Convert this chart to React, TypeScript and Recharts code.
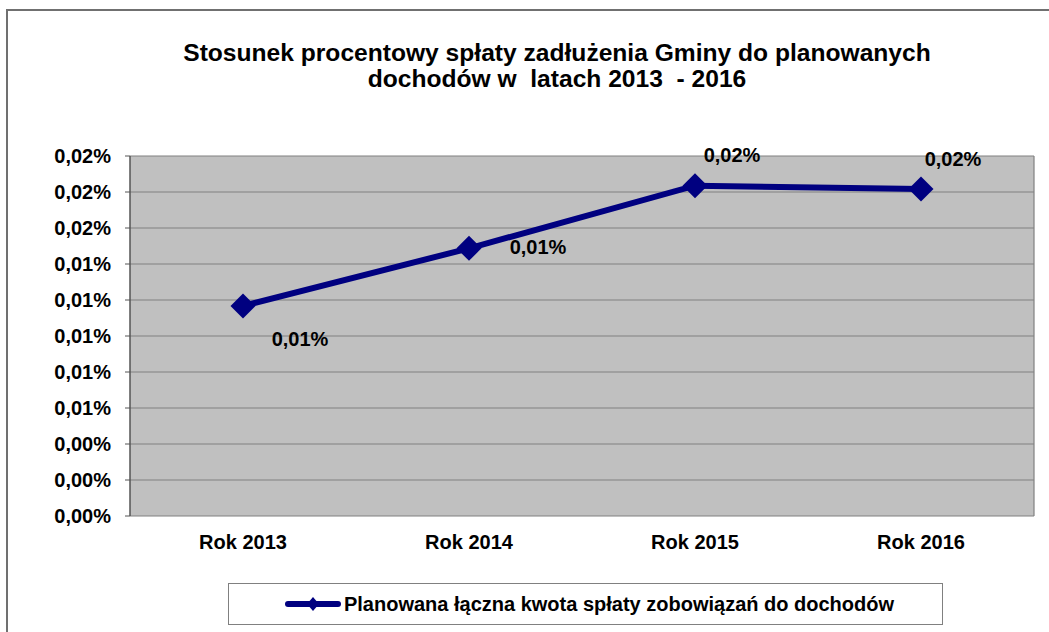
import { LineChart, Line, XAxis, YAxis, CartesianGrid, Legend, LabelList } from 'recharts';

// --- Data ---
const YEARS = ['Rok 2013', 'Rok 2014', 'Rok 2015', 'Rok 2016'];
// values in percent
const DEBT_RATIO = [0.01167, 0.01487, 0.01835, 0.01817];
const Y_TICKS = [0, 0.002, 0.004, 0.006, 0.008, 0.01, 0.012, 0.014, 0.016, 0.018, 0.02];
const CATEGORY_EDGES = [0, 1, 2, 3, 4];
const TITLE_LINES = ['Stosunek procentowy spłaty zadłużenia Gminy do planowanych', 'dochodów w  latach 2013  - 2016'];
const SERIES_NAME = 'Planowana łączna kwota spłaty zobowiązań do dochodów';

const data = YEARS.map((year, i) => ({ year, value: DEBT_RATIO[i] }));

// --- Theme ---
const FONT = '"Liberation Sans", Arial, sans-serif';
const NAVY = '#000080';
const AXIS_TEXT = { fill: '#000', fontSize: 20, fontWeight: 'bold' as const, fontFamily: FONT };
// label offsets from each point (dx, dy), as placed in the original
const LABEL_SHIFT = [[57, 33], [69, -1], [37, -31], [32, -30]];

const pct = (v: number) => `${v.toFixed(2).replace('.', ',')}%`;

const Diamond = (props: any) => {
    const { cx, cy } = props;
    if (cx == null || cy == null) return <g key={props.key} />;
    const r = 12.5;
    return (
        <polygon
            key={props.key}
            points={`${cx},${cy - r} ${cx + r},${cy} ${cx},${cy + r} ${cx - r},${cy}`}
            fill={NAVY}
        />
    );
};

const PointLabel = (props: any) => {
    const x = props.x ?? props.viewBox?.x;
    const y = props.y ?? props.viewBox?.y;
    const [dx, dy] = LABEL_SHIFT[props.index] || [0, -20];
    return (
        <text x={x + dx} y={y + dy} textAnchor="middle" dominantBaseline="central" {...AXIS_TEXT}>
            {pct(props.value)}
        </text>
    );
};

const EmptyTick = () => <g />;

const LegendBox = () => (
    <div
        style={{
            boxSizing: 'border-box',
            width: '100%',
            height: '100%',
            border: '1.5px solid #808080',
            background: '#fff',
            display: 'flex',
            alignItems: 'center',
            justifyContent: 'center',
            paddingLeft: 8,
            fontFamily: FONT,
            fontWeight: 'bold',
            fontSize: 20,
            color: '#000',
        }}
    >
        <svg width={56} height={16} style={{ marginRight: 3 }}>
            <line x1={3} y1={8} x2={53} y2={8} stroke={NAVY} strokeWidth={6} strokeLinecap="round" />
            <polygon points="28,1 34,8 28,15 22,8" fill={NAVY} />
        </svg>
        <span>{SERIES_NAME}</span>
    </div>
);

export default function App() {
    return (
        <div style={{ position: 'fixed', left: 0, top: 0, width: 1049, height: 632, overflow: 'hidden', background: '#fff' }}>
            <div
                style={{
                    position: 'absolute',
                    left: 6,
                    top: 9,
                    width: 1200,
                    height: 800,
                    border: '2px solid #707070',
                }}
            />
            <div
                style={{
                    position: 'absolute',
                    left: 0,
                    top: 40,
                    width: 1114,
                    textAlign: 'center',
                    fontFamily: FONT,
                    fontWeight: 'bold',
                    fontSize: 24.6,
                    lineHeight: '26px',
                    whiteSpace: 'pre',
                    color: '#000',
                }}
            >
                {TITLE_LINES.map((t) => (
                    <div key={t}>{t}</div>
                ))}
            </div>
            <div style={{ position: 'absolute', left: 0, top: 0 }}>
                <LineChart width={1049} height={632} data={data} margin={{ top: 156, right: 15, bottom: 76, left: 0 }}>
                    <CartesianGrid
                        stroke="#808080"
                        strokeWidth={1.2}
                        fill="#c0c0c0"
                        fillOpacity={1}
                        verticalCoordinatesGenerator={({ offset }: any) => [offset.left + offset.width]}
                    />
                    <XAxis
                        xAxisId="edges"
                        type="number"
                        domain={[0, 4]}
                        ticks={CATEGORY_EDGES}
                        tick={EmptyTick}
                        height={0}
                        tickSize={6}
                        axisLine={{ stroke: '#000', strokeWidth: 2.5 }}
                        tickLine={{ stroke: '#000', strokeWidth: 1.5 }}
                    />
                    <XAxis
                        dataKey="year"
                        scale="band"
                        height={40}
                        axisLine={false}
                        tickLine={false}
                        tickSize={0}
                        tickMargin={19}
                        tick={AXIS_TEXT}
                        interval={0}
                    />
                    <YAxis
                        width={130}
                        domain={[0, 0.02]}
                        ticks={Y_TICKS}
                        interval={0}
                        tickFormatter={pct}
                        tick={AXIS_TEXT}
                        tickSize={5}
                        tickMargin={14}
                        axisLine={{ stroke: '#555', strokeWidth: 1.5 }}
                        tickLine={{ stroke: '#555' }}
                    />
                    <Legend
                        layout="horizontal"
                        verticalAlign="middle"
                        align="center"
                        content={<LegendBox />}
                        wrapperStyle={{ left: 228, top: 583, width: 715, height: 42 }}
                    />
                    <Line
                        dataKey="value"
                        stroke={NAVY}
                        strokeWidth={6}
                        dot={Diamond}
                        activeDot={false}
                        isAnimationActive={false}
                    >
                        <LabelList dataKey="value" content={PointLabel} />
                    </Line>
                </LineChart>
            </div>
        </div>
    );
}
